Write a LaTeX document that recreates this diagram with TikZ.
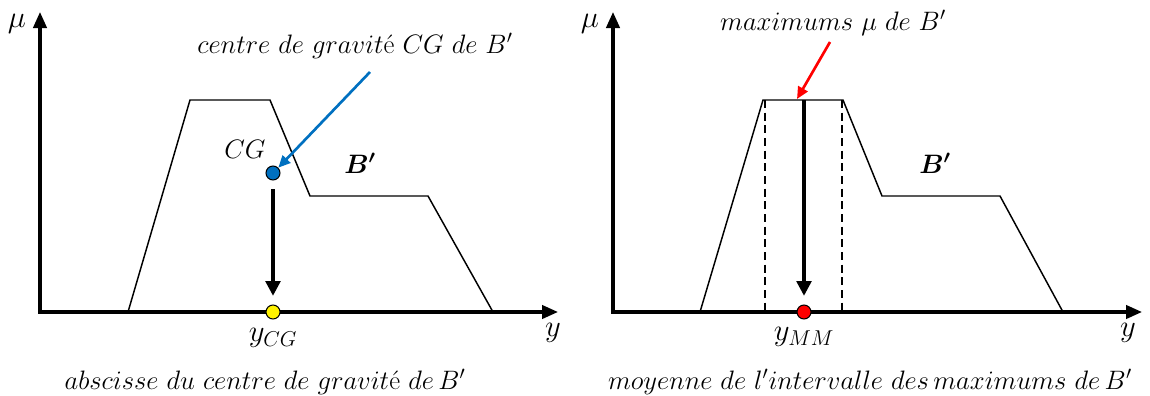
\documentclass[tikz,border=0pt]{standalone}
\usepackage{fix-cm}
\usepackage{amsmath}
\usetikzlibrary{arrows.meta}
\definecolor{cgblue}{RGB}{0,112,192}
\tikzset{
  axis/.style={line width=2.4pt,-{Triangle[length=12pt,width=10pt]}},
  curve/.style={line width=1.1pt,line join=miter},
  vert/.style={line width=2.4pt,-{Triangle[length=11pt,width=11pt]}},
  dot/.style={circle,draw=black,line width=0.8pt,minimum size=10.5pt,inner sep=0pt},
  lbl/.style={inner sep=1pt,font=\fontsize{20}{24}\selectfont},
  biglbl/.style={inner sep=1pt,font=\fontsize{23}{27}\selectfont},
  pointer/.style={line width=2pt,-{Triangle[length=9pt,width=8pt]}},
  dashline/.style={line width=1.1pt,dash pattern=on 6pt off 3.5pt},
}
\begin{document}
\begin{tikzpicture}[x=0.75pt,y=-0.75pt]
\useasboundingbox (0,0) rectangle (1150,396);
% ---------- left panel ----------
\coordinate (O1) at (40,312);
\coordinate (Y1) at (40,12);
\coordinate (X1) at (558,312);
\draw[axis] (O1) -- (Y1);
\draw[axis] ([xshift=-1.2pt]O1) -- (X1);
\node[biglbl] (mu1) at (17,24) {$\mu$};
\node[biglbl] (yl1) at (553,333) {$y$};
\draw[curve] (128,312) -- (190,100) -- (270,100) -- (310,196) -- (428,196) -- (493,312);
\node[dot,fill=cgblue] (cg) at (273,173) {};
\node[dot,fill=yellow] (ycg) at (273,312) {};
\draw[vert] ([yshift=-12pt]cg.center) -- ([yshift=6.5pt]ycg.north);
\node[lbl] (cglab) at (245,149) {$CG$};
\node[biglbl] (ycglab) at (273,338) {$y_{CG}$};
\node[lbl] (b1) at (360,163) {$\boldsymbol{B'}$};
\node[lbl] (cgtext) at (355,46) {$centre\ de\ gravit$\'e$\ CG\ de\ B'$};
\coordinate (bs) at (370,72);
\draw[pointer,cgblue] (bs) -- (cg.north east);
\node[lbl] (cap1) at (265,382) {$abscisse\ du\ centre\ de\ gravit$\'e$\ de\,B'$};
% ---------- right panel ----------
\coordinate (O2) at (613,312);
\coordinate (Y2) at (613,12);
\coordinate (X2) at (1142,312);
\draw[axis] (O2) -- (Y2);
\draw[axis] ([xshift=-1.2pt]O2) -- (X2);
\node[biglbl] (mu2) at (590,24) {$\mu$};
\node[biglbl] (yl2) at (1128,333) {$y$};
\draw[curve] (700,312) -- (763,100) -- (843,100) -- (882,196) -- (1000,196) -- (1063,312);
\draw[dashline] (765,100) -- (765,312);
\draw[dashline] (842,100) -- (842,312);
\node[dot,fill=red] (ymm) at (804,312) {};
\coordinate (top) at (804,100);
\draw[vert] (top) -- ([yshift=6.5pt]ymm.north);
\node[biglbl] (ymmlab) at (804,337) {$y_{MM}$};
\node[lbl] (b2) at (935,163) {$\boldsymbol{B'}$};
\node[lbl] (mmtext) at (833,23) {$maximums\ \mu\ de\ B'$};
\coordinate (rs) at (830,42);
\coordinate (rt) at (797,99);
\draw[pointer,red] (rs) -- (rt);
\node[lbl] (cap2) at (870,382) {$moyenne\ de\ l'intervalle\ des\,maximums\ de\,B'$};
\end{tikzpicture}
\end{document}
